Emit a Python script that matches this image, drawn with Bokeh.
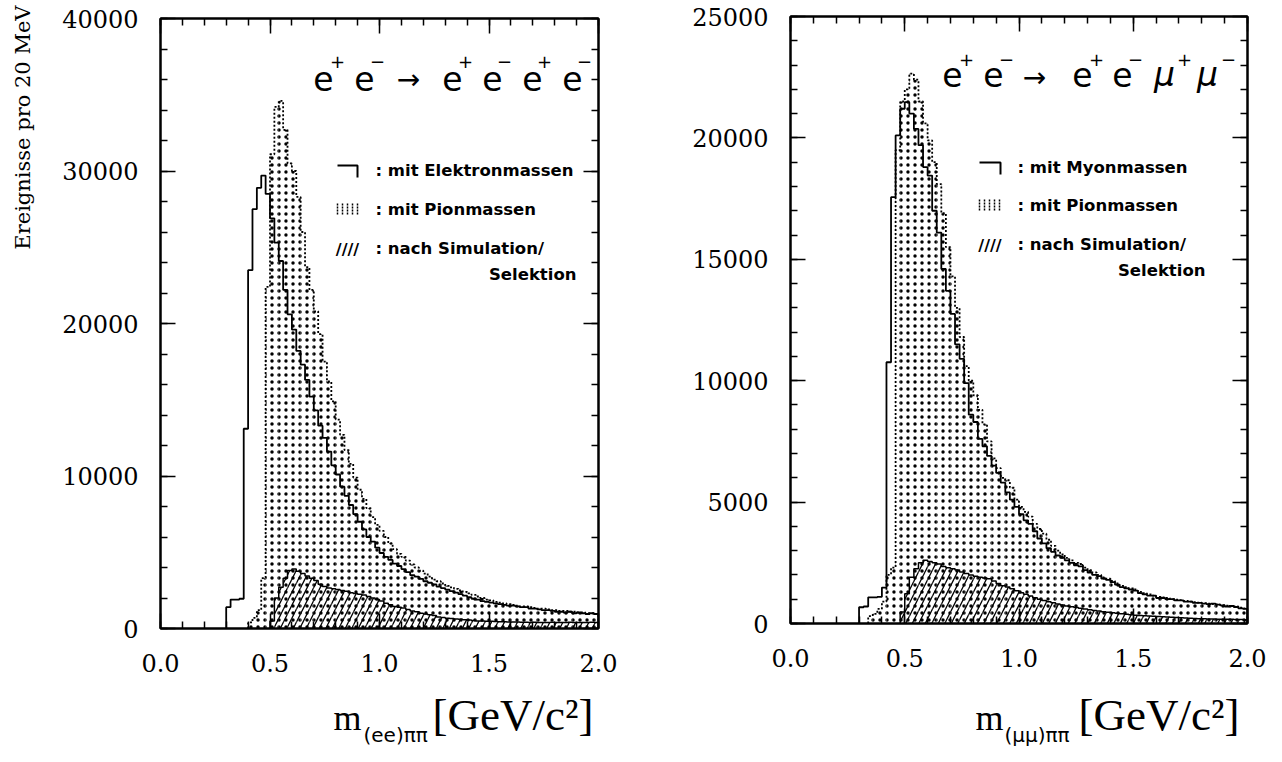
import numpy as np
from math import pi
from bokeh.plotting import figure
from bokeh.layouts import row, column
from bokeh.models import (LinearAxis, Range1d, SingleIntervalTicker,
                          PrintfTickFormatter, CustomJSTickFormatter)
from bokeh.core.properties import value
from bokeh.embed import file_html
from bokeh.resources import INLINE

# ---------------- data (20 MeV bins from 0 to 2 GeV) ----------------
bin_edges = np.round(np.arange(0, 101) * 0.02, 2)

left_elektron = [0] * 15 + [
    1400, 1900, 1900, 1950, 13100, 23500, 27500, 28900, 29700, 28500,
    26900, 25300, 24100, 22200, 20600, 19600, 18200, 17300, 16300, 15200,
    14300, 13300, 12500, 11600, 10700, 10100, 9300, 8700, 8100, 7500,
    7000, 6500, 6000, 5700, 5300, 4950, 4700, 4500, 4250, 4100,
    3900, 3700, 3500, 3400, 3250, 3100, 3000, 2900, 2750, 2650,
    2550, 2450, 2350, 2250, 2150, 2050, 1950, 1900, 1800, 1750,
    1700, 1650, 1600, 1550, 1500, 1500, 1450, 1400, 1400, 1300,
    1300, 1250, 1200, 1200, 1150, 1100, 1100, 1050, 1100, 1000,
    1050, 1000, 950, 1000, 950]

left_pion = [0] * 20 + [
    400, 700, 1200, 3300, 22400, 31100, 34200, 34600, 32700, 30500,
    30000, 28300, 26000, 23700, 22200, 20800, 19300, 17500, 16200, 14900,
    13700, 12700, 11700, 10800, 9900, 9100, 8500, 7900, 7300, 6800,
    6400, 6000, 5600, 5200, 4900, 4700, 4450, 4200, 4000, 3800,
    3600, 3400, 3200, 3100, 2950, 2800, 2700, 2600, 2500, 2400,
    2300, 2200, 2100, 2000, 1900, 1850, 1750, 1700, 1650, 1600,
    1550, 1500, 1450, 1450, 1400, 1350, 1300, 1300, 1250, 1200,
    1200, 1150, 1150, 1100, 1100, 1050, 1050, 1000, 1000, 950]

left_selektion = [0] * 25 + [
    500, 2000, 2700, 3300, 3800, 3900, 3750, 3600, 3450, 3300,
    3150, 2900, 2750, 2650, 2600, 2550, 2500, 2450, 2350, 2300,
    2250, 2200, 2100, 2000, 1900, 1800, 1650, 1550, 1450, 1400,
    1350, 1250, 1150, 1100, 1000, 950, 900, 850, 750, 720,
    680, 650, 620, 600, 570, 550, 520, 500, 490, 480,
    470, 460, 450, 440, 430, 420, 420, 410, 410, 400,
    410, 400, 390, 400, 410, 400, 390, 400, 410, 400,
    400, 390, 400, 410, 400]

right_myon = [0] * 15 + [
    670, 700, 1080, 1080, 1100, 1480, 10760, 17560, 20100, 21200,
    21470, 21000, 20370, 19700, 18800, 18450, 17000, 16100, 14600, 13700,
    12750, 11500, 10900, 9900, 8600, 8300, 7600, 7300, 6900, 6500,
    6200, 5800, 5400, 5100, 4800, 4500, 4250, 4100, 3800, 3500,
    3300, 3100, 2950, 2800, 2700, 2600, 2500, 2400, 2350, 2200,
    2100, 2000, 1950, 1850, 1800, 1700, 1600, 1500, 1450, 1400,
    1350, 1250, 1200, 1150, 1150, 1050, 1050, 1000, 1000, 950,
    950, 900, 900, 850, 850, 820, 800, 820, 780, 750,
    700, 720, 680, 620, 600]

right_pion = [0] * 17 + [
    300, 400, 600, 900, 2000, 2300, 19500, 21500, 22000, 22650,
    22400, 21500, 20600, 19900, 19000, 18100, 16900, 15500, 14300, 13000,
    11800, 10600, 10000, 9400, 8800, 8200, 7500, 6800, 6400, 6000,
    5900, 5600, 5100, 4800, 4600, 4400, 4100, 3900, 3700, 3450,
    3200, 3000, 2850, 2700, 2600, 2500, 2450, 2300, 2200, 2100,
    2000, 1900, 1850, 1750, 1650, 1550, 1500, 1450, 1400, 1300,
    1250, 1200, 1150, 1100, 1080, 1050, 1000, 980, 960, 930,
    900, 880, 860, 840, 820, 800, 790, 760, 740, 720,
    700, 650, 620]

right_selektion = [0] * 24 + [
    470, 1230, 1900, 2260, 2500, 2600, 2550, 2500, 2450, 2350,
    2300, 2250, 2200, 2120, 2060, 2000, 1950, 1900, 1870, 1840,
    1750, 1650, 1550, 1500, 1430, 1350, 1270, 1200, 1130, 1060,
    1000, 950, 900, 850, 800, 760, 720, 690, 660, 630,
    600, 570, 540, 510, 480, 460, 440, 420, 400, 380,
    360, 340, 330, 320, 310, 300, 290, 280, 270, 260,
    250, 240, 230, 220, 210, 200, 200, 190, 190, 180,
    180, 170, 170, 160, 160, 150]

x_tick_interval = 0.5
left_y_max, left_y_interval = 40000, 10000
right_y_max, right_y_interval = 25000, 5000

y_title = "Ereignisse pro 20 MeV"
left_legend = [": mit Elektronmassen", ": mit Pionmassen", ": nach Simulation/", "Selektion"]
right_legend = [": mit Myonmassen", ": mit Pionmassen", ": nach Simulation/", "Selektion"]
left_xlabel = ["m", "(ee)ππ", "[GeV/c²]"]
right_xlabel = ["m", "(μμ)ππ", "[GeV/c²]"]

SERIF = "DejaVu Serif"
SERIF2 = "Liberation Serif"
SANS = "DejaVu Sans"
PAGE_H = 760
BASE_FIX = 0.3   # alphabetic baseline correction (fraction of font size)


def make_geom(x0, x1, ytop, ybot, ymax):
    def fx(px):
        return (px - x0) / (x1 - x0) * 2.0

    def fy(py):
        return (ybot - py) / (ybot - ytop) * ymax
    return fx, fy


def outline(vals):
    idx = [i for i, v in enumerate(vals) if v > 0]
    i0, i1 = idx[0], idx[-1]
    xs, ys = [bin_edges[i0]], [0]
    for i in range(i0, i1 + 1):
        xs += [bin_edges[i], bin_edges[i + 1]]
        ys += [vals[i], vals[i]]
    xs.append(bin_edges[i1 + 1])
    ys.append(0)
    return xs, ys


def style_axis(ax, labels=True, standoff=22):
    ax.major_tick_in = 15
    ax.major_tick_out = 0
    ax.minor_tick_in = 7
    ax.minor_tick_out = 0
    ax.axis_line_width = 2
    ax.axis_line_color = "black"
    ax.major_tick_line_width = 1.5
    ax.minor_tick_line_width = 1.5
    ax.major_tick_line_color = "black"
    ax.minor_tick_line_color = "black"
    ax.major_label_text_font = SERIF
    ax.major_label_text_font_size = "24px"
    ax.major_label_text_color = "black"
    ax.major_label_standoff = standoff
    if not labels:
        ax.formatter = CustomJSTickFormatter(code="return ''")
        ax.major_label_text_font_size = "1px"
        ax.major_label_standoff = 0


def make_panel(frame_w, frame_h, bl, br, bt, bb, ymax, yint):
    p = figure(frame_width=frame_w, frame_height=frame_h,
               min_border_left=bl, min_border_right=br,
               min_border_top=bt, min_border_bottom=bb,
               x_range=Range1d(0, 2), y_range=Range1d(0, ymax),
               x_axis_type=None, y_axis_type=None,
               output_backend="svg", toolbar_location=None)
    p.outline_line_color = "black"
    p.outline_line_width = 2
    p.background_fill_color = "white"
    p.border_fill_color = "white"
    bottom = LinearAxis(ticker=SingleIntervalTicker(interval=x_tick_interval, num_minor_ticks=5),
                        formatter=PrintfTickFormatter(format="%.1f"))
    top = LinearAxis(ticker=SingleIntervalTicker(interval=x_tick_interval, num_minor_ticks=5))
    left = LinearAxis(ticker=SingleIntervalTicker(interval=yint, num_minor_ticks=5))
    right = LinearAxis(ticker=SingleIntervalTicker(interval=yint, num_minor_ticks=5))
    style_axis(bottom, True, 25)
    style_axis(left, True, 22)
    style_axis(top, False)
    style_axis(right, False)
    p.add_layout(bottom, "below")
    p.add_layout(left, "left")
    p.add_layout(top, "above")
    p.add_layout(right, "right")
    return p


def make_strip(width, h, frame_x0, frame_x1):
    # text strip; its frame is aligned with the panel frame above it,
    # so x data equals page x; y data counts up from the strip bottom
    s = figure(width=width, height=h, x_range=Range1d(frame_x0, frame_x1),
               y_range=Range1d(0, h), x_axis_type=None, y_axis_type=None,
               min_border=0, output_backend="svg", toolbar_location=None)
    s.outline_line_color = None
    s.background_fill_color = "white"
    s.border_fill_color = "white"
    return s


def draw_hists(p, solid, pion, sel):
    lefts, rights = bin_edges[:-1], bin_edges[1:]
    p.quad(left=lefts, right=rights, bottom=0, top=pion, fill_color=None,
           line_color=None, hatch_pattern="dot", hatch_scale=7,
           hatch_weight=1.25, hatch_color="black")
    xs, ys = outline(pion)
    p.line(xs, ys, line_color="black", line_width=1.8, line_dash="2 2")
    p.quad(left=lefts, right=rights, bottom=0, top=sel, fill_color=None,
           line_color=None, hatch_pattern="right_diagonal_line", hatch_scale=13,
           hatch_weight=1.3, hatch_color="black")
    xs, ys = outline(sel)
    p.line(xs, ys, line_color="black", line_width=1.5)
    xs, ys = outline(solid)
    p.line(xs, ys, line_color="black", line_width=1.8)


def draw_title(p, fx, fy, letters, letter_px, arrow_px, sup_px, base_py, sup_py,
               arrow_py, italic_idx=()):
    sups = ["+", "−"] * 3
    fs = 33
    for i, (ch, cx) in enumerate(zip(letters, letter_px)):
        p.text(x=[fx(cx)], y=[fy(base_py - BASE_FIX * fs)], text=[ch], text_align="center",
               text_baseline="alphabetic", text_font=value(SANS),
               text_font_size=f"{fs}px", text_color="black",
               text_font_style="italic" if i in italic_idx else "normal")
    p.text(x=[fx(arrow_px)], y=[fy(arrow_py)], text=["→"], text_align="center",
           text_baseline="middle", text_font=value(SANS), text_font_size="28px",
           text_color="black")
    p.text(x=[fx(c) for c in sup_px], y=[fy(sup_py)] * len(sup_px), text=sups,
           text_align="center", text_baseline="middle", text_font=value(SANS),
           text_font_size="18px", text_color="black")


def draw_legend(p, fx, fy, texts, sym_x0, sym_x1, rows_py, text_px, sel_right_px, sel_py):
    p.line([fx(sym_x0), fx(sym_x1), fx(sym_x1)],
           [fy(rows_py[0] - 5), fy(rows_py[0] - 5), fy(rows_py[0] + 7)],
           line_color="black", line_width=2)
    bx = [fx(sym_x0 + k * 5) for k in range(5)]
    p.segment(x0=bx, y0=[fy(rows_py[1] - 6)] * 5, x1=bx, y1=[fy(rows_py[1] + 6)] * 5,
              line_color="black", line_width=1.5, line_dash="2 1")
    p.text(x=[fx((sym_x0 + sym_x1) / 2)], y=[fy(rows_py[2] + 1)], text=["////"],
           text_align="center", text_baseline="middle", text_font=value(SANS),
           text_font_size="16px", text_font_style="bold", text_color="black")
    p.text(x=[fx(text_px)] * 3, y=[fy(r) for r in rows_py], text=texts[:3],
           text_align="left", text_baseline="middle", text_font=value(SANS),
           text_font_size="16.5px", text_font_style="bold", text_color="black")
    p.text(x=[fx(sel_right_px)], y=[fy(sel_py)], text=[texts[3]],
           text_align="right", text_baseline="middle", text_font=value(SANS),
           text_font_size="16.5px", text_font_style="bold", text_color="black")


def draw_xlabel(s, parts, m_px, sub_px, br_px, base_py, sub_py):
    # strip bottom is at page y PAGE_H
    def sy(py, fs):
        return PAGE_H - (py - BASE_FIX * fs)
    s.text(x=[m_px], y=[sy(base_py, 36)], text=[parts[0]], text_align="left",
           text_baseline="alphabetic", text_font=value(SERIF2),
           text_font_size="36px", text_color="black")
    s.text(x=[sub_px], y=[sy(sub_py, 20)], text=[parts[1]], text_align="left",
           text_baseline="alphabetic", text_font=value(SANS),
           text_font_size="20px", text_color="black")
    s.text(x=[br_px], y=[sy(base_py, 45)], text=[parts[2]], text_align="left",
           text_baseline="alphabetic", text_font=value(SERIF2),
           text_font_size="45px", text_color="black")


TOP_STRIP = 690   # page y where the x-label strips start
YSTRIP_W = 44

# ---------------- y title strip ----------------
ys = figure(width=YSTRIP_W, height=PAGE_H, x_range=Range1d(0, YSTRIP_W),
            y_range=Range1d(0, PAGE_H), x_axis_type=None, y_axis_type=None,
            min_border=0, output_backend="svg", toolbar_location=None)
ys.outline_line_color = None
ys.text(x=[22], y=[PAGE_H - 5], text=[y_title], angle=pi / 2, text_align="right",
        text_baseline="middle", text_font=value(SERIF), text_font_size="21px",
        text_color="black")

# ---------------- left panel ----------------
fx, fy = make_geom(160, 598, 18, 628, left_y_max)
p1 = make_panel(438, 610, 160 - YSTRIP_W, 82, 18, TOP_STRIP - 628, left_y_max, left_y_interval)
draw_hists(p1, left_elektron, left_pion, left_selektion)
draw_title(p1, fx, fy, ["e", "e", "e", "e", "e", "e"],
           [323, 364, 452, 492, 532, 572], 408,
           [337, 377, 465, 504, 544, 584], 88, 61, 79)
draw_legend(p1, fx, fy, left_legend, 337, 357, [170, 209, 248], 375, 576, 274)
xl1 = make_strip(680 - YSTRIP_W, PAGE_H - TOP_STRIP, 160, 598)
draw_xlabel(xl1, left_xlabel, 333, 363, 432, 728, 740)

# ---------------- right panel ----------------
gx, gy = make_geom(790, 1247, 16, 623, right_y_max)
p2 = make_panel(457, 607, 110, 20, 16, TOP_STRIP - 623, right_y_max, right_y_interval)
draw_hists(p2, right_myon, right_pion, right_selektion)
draw_title(p2, gx, gy, ["e", "e", "e", "e", "μ", "μ"],
           [952, 993, 1082, 1122, 1164, 1207], 1034,
           [966, 1006, 1096, 1135, 1184, 1228], 84, 59, 77, italic_idx=(4, 5))
draw_legend(p2, gx, gy, right_legend, 979, 1000, [167, 205, 244], 1017, 1205, 270)
xl2 = make_strip(1267 - 680, PAGE_H - TOP_STRIP, 790, 1247)
draw_xlabel(xl2, right_xlabel, 975, 1004, 1078, 728, 740)

layout = row(ys, column(p1, xl1), column(p2, xl2))
open("out.html", "w").write(file_html(layout, INLINE))
